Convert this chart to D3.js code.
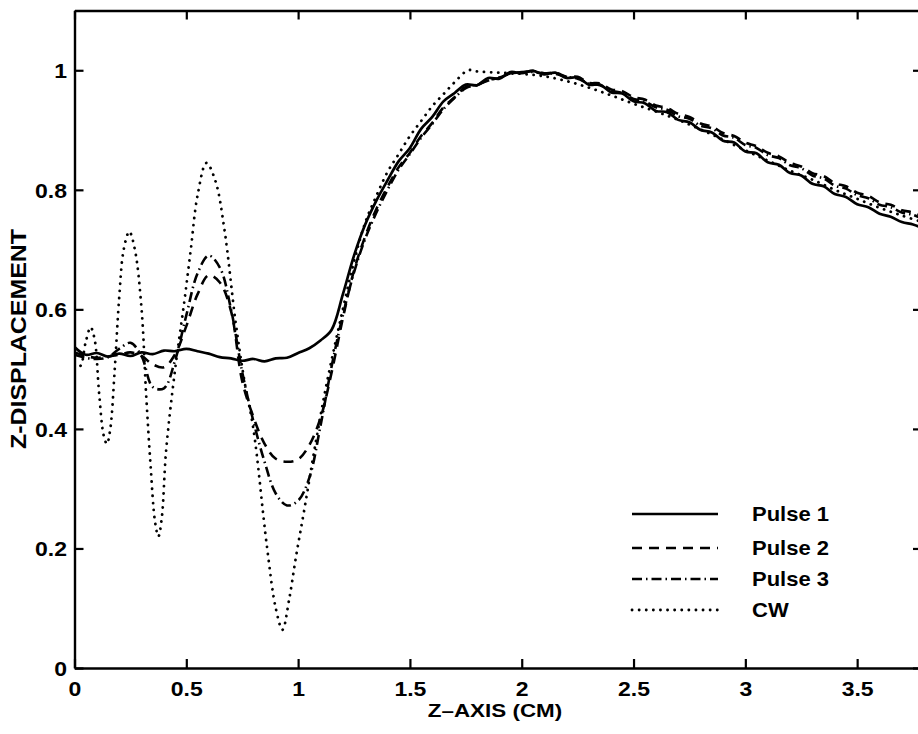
<!DOCTYPE html>
<html><head><meta charset="utf-8">
<script src="https://cdn.jsdelivr.net/npm/d3@7"></script>
<style>
html,body{margin:0;padding:0;background:#fff;}
svg text{font-family:"Liberation Sans",Arial,Helvetica,sans-serif;font-weight:bold;fill:#000;}
</style></head>
<body>
<svg id="chart" width="918" height="734"></svg>
<script>
// ---- data ----
const zGrid = d3.range(0, 3.8001, 0.05).map(v => +v.toFixed(2));
const pulse1 = [0.537,0.524,0.527,0.521,0.526,0.522,0.528,0.525,0.531,0.530,0.534,0.530,0.526,0.520,0.518,0.514,0.517,0.513,0.518,0.519,
  0.527,0.535,0.548,0.566,0.625,0.690,0.742,0.782,0.816,0.848,0.870,0.902,0.922,0.948,0.962,0.976,0.975,0.987,0.986,0.997,
  0.995,0.999,0.993,0.996,0.987,0.988,0.976,0.976,0.963,0.961,0.948,0.945,0.932,0.930,0.917,0.913,0.900,0.896,0.882,0.879,
  0.864,0.861,0.846,0.842,0.828,0.824,0.810,0.806,0.793,0.788,0.776,0.771,0.760,0.755,0.746,0.742,0.735];
const pulse2 = [0.528,0.522,0.519,0.521,0.524,0.528,0.522,0.508,0.503,0.525,0.572,0.625,0.657,0.645,0.597,0.480,0.420,0.375,0.350,0.345,
  0.349,0.373,0.418,0.495,0.585,0.665,0.722,0.768,0.805,0.838,0.862,0.890,0.912,0.938,0.955,0.972,0.975,0.984,0.987,0.995,
  0.996,0.999,0.995,0.996,0.989,0.989,0.979,0.978,0.968,0.965,0.955,0.951,0.941,0.937,0.927,0.922,0.911,0.906,0.895,0.890,
  0.879,0.873,0.862,0.856,0.845,0.839,0.828,0.823,0.811,0.806,0.795,0.790,0.779,0.775,0.766,0.762,0.754];
const pulse3 = [0.524,0.519,0.517,0.520,0.534,0.544,0.522,0.470,0.468,0.515,0.590,0.660,0.690,0.670,0.600,0.495,0.413,0.345,0.292,0.272,
  0.280,0.318,0.405,0.505,0.590,0.662,0.718,0.762,0.800,0.834,0.860,0.887,0.910,0.935,0.954,0.970,0.976,0.983,0.988,0.994,
  0.997,0.997,0.995,0.994,0.989,0.986,0.978,0.975,0.966,0.962,0.952,0.948,0.938,0.934,0.923,0.919,0.907,0.903,0.891,0.887,
  0.875,0.870,0.858,0.853,0.841,0.836,0.824,0.819,0.807,0.802,0.791,0.786,0.775,0.771,0.762,0.758,0.750];
const cwZ = [0,0.025,0.05,0.072,0.09,0.11,0.13,0.145,0.16,0.18,0.2,0.22,0.245,0.27,0.3,0.32,0.34,0.36,0.375,0.39,0.41,0.45,0.49,0.52,0.55,0.59,0.63,0.67,0.72,0.76,0.8,0.86,0.9,0.93,0.96,0.99,1.03,1.08,1.13,1.2,1.25,1.3,1.35,1.4,1.45,1.5,1.55,1.6,1.65,1.7,1.76,1.8,1.9,2.0,2.1,2.2,2.3,2.4,2.5,2.6,2.7,2.8,2.9,3.0,3.1,3.2,3.3,3.4,3.5,3.6,3.7,3.8];
const cw = [0.51,0.505,0.545,0.57,0.55,0.46,0.39,0.375,0.40,0.50,0.62,0.70,0.73,0.70,0.60,0.46,0.34,0.245,0.22,0.25,0.365,0.50,0.61,0.70,0.79,0.845,0.815,0.735,0.58,0.48,0.40,0.205,0.10,0.064,0.115,0.185,0.27,0.38,0.48,0.60,0.68,0.745,0.79,0.83,0.86,0.89,0.915,0.94,0.96,0.98,1.0,0.998,0.996,0.994,0.99,0.982,0.971,0.958,0.944,0.931,0.917,0.901,0.884,0.866,0.849,0.832,0.817,0.8,0.785,0.77,0.757,0.745];
const xTicks = [0,0.5,1,1.5,2,2.5,3,3.5];
const yTicks = [0,0.2,0.4,0.6,0.8,1];
const seriesNames = ["Pulse 1","Pulse 2","Pulse 3","CW"];

// ---- layout ----
const mLeft = 74.5, mTop = 10.5, mRight = 922, mBottom = 668;
const svg = d3.select("#chart");
const x = d3.scaleLinear().domain([0, 3.79]).range([mLeft, mRight]);
const y = d3.scaleLinear().domain([0, 1.1]).range([mBottom, mTop]);
const sx = 1.15; // horizontal stretch of the scanned lettering

const styles = [
  {dash: null, width: 2.7, cap: "butt"},
  {dash: "10,7", width: 2.6, cap: "butt"},
  {dash: "10,4,1.5,4", width: 2.6, cap: "butt"},
  {dash: "0.1,7", width: 2.8, cap: "round"}
];
const series = [
  zGrid.map((z,i)=>[z,pulse1[i]]),
  zGrid.map((z,i)=>[z,pulse2[i]]),
  zGrid.map((z,i)=>[z,pulse3[i]]),
  cwZ.map((z,i)=>[z,cw[i]])
];

svg.append("clipPath").attr("id","clip").append("rect")
  .attr("x",mLeft).attr("y",mTop).attr("width",mRight-mLeft).attr("height",mBottom-mTop);

const line = d3.line().x(d=>x(d[0])).y(d=>y(d[1])).curve(d3.curveCatmullRom.alpha(0.5));
const g = svg.append("g").attr("clip-path","url(#clip)");
series.forEach((s,i)=>{
  g.append("path").datum(s).attr("d",line)
    .attr("fill","none").attr("stroke","#000")
    .attr("stroke-width",styles[i].width)
    .attr("stroke-linecap",styles[i].cap)
    .attr("stroke-linejoin","round")
    .attr("stroke-dasharray",styles[i].dash);
});

// ---- axes ----
const axB = svg.append("g").attr("transform",`translate(0,${mBottom})`)
  .call(d3.axisBottom(x).tickValues(xTicks).tickSizeInner(-9).tickSizeOuter(0).tickPadding(14).tickFormat(d3.format("")));
const axT = svg.append("g").attr("transform",`translate(0,${mTop})`)
  .call(d3.axisTop(x).tickValues(xTicks).tickSizeInner(-9).tickSizeOuter(0).tickFormat(""));
const axL = svg.append("g").attr("transform",`translate(${mLeft},0)`)
  .call(d3.axisLeft(y).tickValues(yTicks).tickSizeInner(-9).tickSizeOuter(0).tickPadding(6.5).tickFormat(d3.format("")));
const axR = svg.append("g").attr("transform",`translate(${mRight},0)`)
  .call(d3.axisRight(y).tickValues(yTicks).tickSizeInner(-9).tickSizeOuter(0).tickFormat(""));
[axB,axT,axL,axR].forEach(a=>{
  a.selectAll(".domain").attr("stroke","#000").attr("stroke-width",2.4);
  a.selectAll(".tick line").attr("stroke","#000").attr("stroke-width",2.2);
  a.selectAll("text").attr("font-size",20).attr("font-family","Liberation Sans, Arial, sans-serif")
    .attr("font-weight","bold").attr("fill","#000").attr("transform",`scale(${sx},1)`);
});
axB.selectAll("text").attr("dy","0.71em");
axL.selectAll("text").attr("dy","0.36em");

// axis titles
svg.append("text").attr("transform",`translate(495,717) scale(${sx+0.03},1)`).attr("text-anchor","middle")
  .attr("font-size",19).text("Z–AXIS (CM)");
svg.append("text").attr("transform",`translate(26,339) scale(${sx},1) rotate(-90)`).attr("text-anchor","middle")
  .attr("font-size",19).attr("textLength",220).attr("lengthAdjust","spacingAndGlyphs").text("Z-DISPLACEMENT");

// ---- legend ----
const legY = [514, 548, 579, 610];
seriesNames.forEach((name,i)=>{
  svg.append("line").attr("x1",632).attr("x2",718).attr("y1",legY[i]).attr("y2",legY[i])
    .attr("stroke","#000").attr("stroke-width",styles[i].width)
    .attr("stroke-linecap",styles[i].cap).attr("stroke-dasharray",styles[i].dash);
  svg.append("text").attr("transform",`translate(752,${legY[i]+7}) scale(1.1,1)`).attr("font-size",20).text(name);
});
</script>
</body></html>
